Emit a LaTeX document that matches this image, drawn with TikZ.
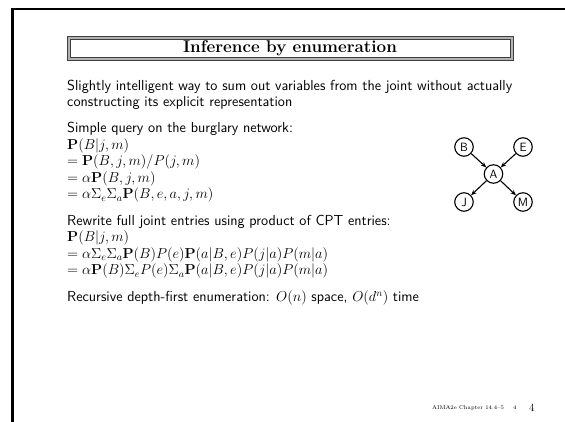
\documentclass[tikz,border=0pt]{standalone}
\usepackage{amsmath}
\usetikzlibrary{arrows.meta}
\tikzset{
  body/.style={anchor=base west, inner sep=0pt, font=\fontsize{14.5}{16}\sffamily},
  netnode/.style={circle, draw, line width=1.1pt, minimum size=18.5pt, inner sep=0pt, font=\fontsize{12}{13}\sffamily},
  netedge/.style={line width=1.1pt, -{Stealth[length=5.5pt,width=4.5pt]}},
}
\begin{document}
\begin{tikzpicture}[x=1pt, y=-1pt]
\useasboundingbox (0,0) rectangle (565,422);
% page frame (left and top rules)
\draw[line width=2.2pt] (12.5,422) -- (12.5,9) -- (565,9);
% title box with double shaded border
\draw[line width=3.2pt, gray!60] (68.5,37.5) rectangle (511.5,58.5);
\draw[line width=0.7pt, black!75] (67,36) rectangle (513,60);
\draw[line width=0.7pt, black!75] (70,39) rectangle (510,57);
\node[inner sep=0pt, font=\fontsize{17}{19}\bfseries] (title) at (290,48.5) {Inference by enumeration};
% body text
\node[body] (l1) at (67,90.5) {Slightly intelligent way to sum out variables from the joint without actually};
\node[body] (l2) at (67,106.5) {constructing its explicit representation};
\node[body] (l3) at (67,133) {Simple query on the burglary network:};
\node[body] (l4) at (67,149.5) {$\mathbf{P}(B|j,m)$};
\node[body] (l5) at (67,166) {$= \mathbf{P}(B,j,m)/P(j,m)$};
\node[body] (l6) at (67,182.5) {$= \alpha\mathbf{P}(B,j,m)$};
\node[body] (l7) at (67,199) {$= \alpha\Sigma_e\Sigma_a\mathbf{P}(B,e,a,j,m)$};
\node[body] (l8) at (67,225.5) {Rewrite full joint entries using product of CPT entries:};
\node[body] (l9) at (67,242) {$\mathbf{P}(B|j,m)$};
\node[body] (l10) at (67,258.5) {$= \alpha\Sigma_e\Sigma_a\mathbf{P}(B)P(e)\mathbf{P}(a|B,e)P(j|a)P(m|a)$};
\node[body] (l11) at (67,275) {$= \alpha\mathbf{P}(B)\Sigma_e P(e)\Sigma_a\mathbf{P}(a|B,e)P(j|a)P(m|a)$};
\node[body] (l12) at (67,301.5) {Recursive depth-first enumeration: $O(n)$ space, $O(d^n)$ time};
% burglary network
\node[netnode] (B) at (464,147) {B};
\node[netnode] (E) at (523,147) {E};
\node[netnode] (A) at (493.5,174) {A};
\node[netnode] (J) at (464,202) {J};
\node[netnode] (M) at (523,202) {M};
\draw[netedge] (B) -- (A);
\draw[netedge] (E) -- (A);
\draw[netedge] (A) -- (J);
\draw[netedge] (A) -- (M);
% footer
\node[anchor=base west, inner sep=0pt, font=\fontsize{5.5}{6}\selectfont] (foot) at (432,409) {AIMA2e Chapter 14.4--5\hspace{9pt}4};
\node[anchor=base west, inner sep=0pt, font=\fontsize{11}{12}\selectfont] (pg) at (529,411) {4};
\end{tikzpicture}
\end{document}
